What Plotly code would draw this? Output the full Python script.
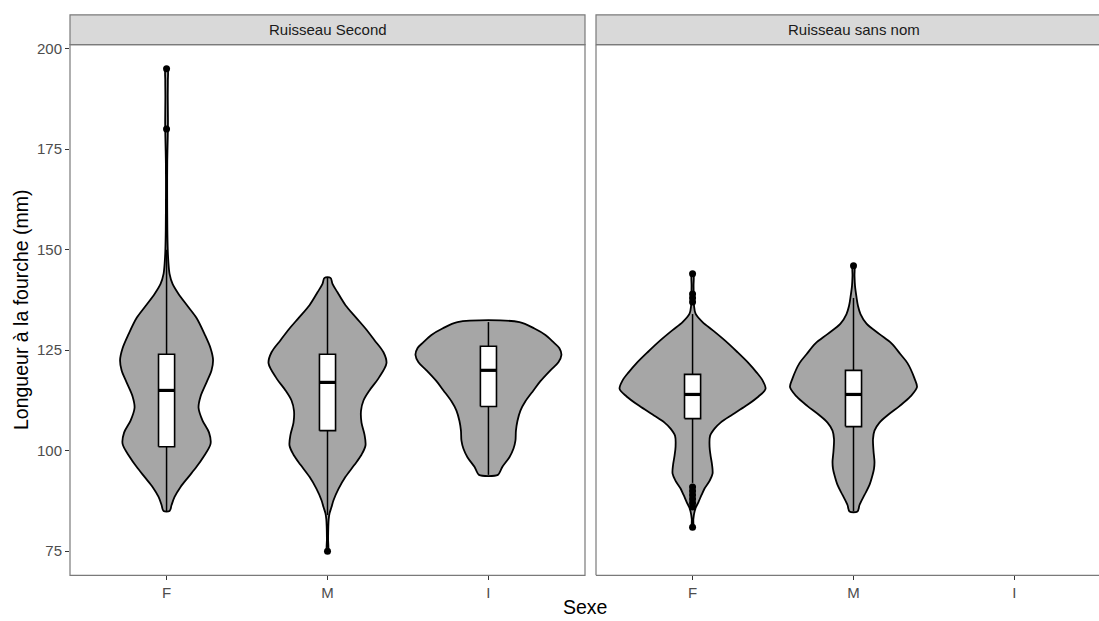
import plotly.graph_objects as go

# ---------------- data ----------------
panels = ["Ruisseau Second", "Ruisseau sans nom"]
categories = ["F", "M", "I"]

# violin profiles: y value (mm) and relative half-width (density, measured units)
lf_y = [85, 86.5, 88.5, 91, 93.5, 96, 98.5, 101.7, 104.5, 107.5, 110.7, 113.5, 117, 120, 122.6,
        125.5, 129, 133, 136, 139, 141.5, 144, 147, 150, 155, 165, 172, 178, 182, 188, 192, 195]
lf_d = [3, 5, 8, 14, 22, 30, 37, 44, 42.5, 36, 32, 34, 40, 45, 46.5,
        44, 38, 30, 21, 12, 6, 3, 1.8, 1.2, 0.8, 0.6, 0.7, 1.2, 1.4, 1.2, 1.3, 1.0]

lm_y = [75, 78, 81, 83, 84.4, 86, 87.7, 90.5, 93.5, 96.5, 99, 101.3, 104, 107, 109.9, 112.5,
        115, 118, 121.8, 124.5, 127.5, 130.4, 133, 136.2, 139.4, 141.5, 143]
lm_d = [0.6, 0.6, 0.8, 1.2, 2, 4, 6, 11, 18, 27, 34, 38, 37, 34, 33.5, 36,
        42, 51, 59, 56, 47, 38, 29, 18, 10, 5, 3]

li_y = [94, 95, 96, 98.4, 100.5, 102.5, 105, 107.4, 110, 112.3, 115, 117.3, 120, 122, 123.8,
        125.5, 127, 128.8, 130.4, 132]
li_d = [9.5, 12, 14, 21, 25, 27, 27.5, 29, 32, 37, 45, 52, 62, 70, 73,
        71, 65, 57, 46, 31]

rf_y = [81, 83, 84.9, 86, 87.3, 89, 90.6, 92.5, 94.3, 96.5, 98.8, 101, 103.7, 105.5, 107, 109,
        111.1, 113.5, 115.4, 117.5, 119.5, 121.8, 124.5, 127.5, 130, 132, 134.1, 136, 138, 141, 144]
rf_d = [0.6, 0.8, 2, 3.5, 6, 9, 12, 17, 20, 19.5, 18, 17, 17.5, 22, 28, 40,
        53, 66, 73, 70, 64, 56, 45, 32, 20, 10, 3, 1.5, 1.2, 1, 0.8]

rm_y = [84.9, 86.5, 89, 91.5, 93.9, 95.5, 97.2, 100, 102.9, 105, 107, 109, 111.1, 113.5, 115.8,
        118, 121.8, 124, 126.7, 129, 131.6, 134, 136, 138.2, 141, 143.5, 146]
rm_d = [4, 6, 11, 16, 19, 20.5, 21, 20, 19.5, 21, 26, 35, 46, 57, 63.5,
        61, 54, 47, 38, 26, 13, 7, 4.5, 3, 1.5, 1, 0.8]

# boxplot statistics: (lower whisker, q1, median, q3, upper whisker)
box_lf = [85, 101, 115, 124, 150]
box_lm = [84, 105, 117, 124, 143]
box_li = [94, 111, 120, 126, 132]
box_rf = [92, 108, 114, 119, 134]
box_rm = [85, 106, 114, 120, 138]

# outliers
out_lf = [180, 195]
out_lm = [75]
out_li = []
out_rf = [81, 86, 87, 88, 89, 90, 91, 137, 138, 139, 144]
out_rm = [146]

y_ticks = [75, 100, 125, 150, 175, 200]

# ---------------- figure ----------------
W, H = 1099, 621
DENS_SCALE = 1 / 161.0   # converts measured half-width to category units
BOX_HALF = 0.05          # boxplot width 0.1 (category units)

groups = [
    ("x", "y", 1, lf_y, lf_d, box_lf, out_lf),
    ("x", "y", 2, lm_y, lm_d, box_lm, out_lm),
    ("x", "y", 3, li_y, li_d, box_li, out_li),
    ("x2", "y2", 1, rf_y, rf_d, box_rf, out_rf),
    ("x2", "y2", 2, rm_y, rm_d, box_rm, out_rm),
]

fig = go.Figure()
VIOLIN_FILL = "#A6A6A6"

for xa, ya, pos, vy, vd, bx, outs in groups:
    # violin
    right_x = [pos + d * DENS_SCALE for d in vd]
    left_x = [pos - d * DENS_SCALE for d in vd]
    xs = right_x + left_x[::-1] + [right_x[0]]
    ys = vy + vy[::-1] + [vy[0]]
    fig.add_trace(go.Scatter(
        x=xs, y=ys, xaxis=xa, yaxis=ya, mode="lines", fill="toself",
        fillcolor=VIOLIN_FILL, line=dict(color="black", width=1.8, shape="spline", smoothing=0.9),
        hoverinfo="skip", showlegend=False))
    # whiskers
    fig.add_trace(go.Scatter(
        x=[pos, pos], y=[bx[0], bx[4]], xaxis=xa, yaxis=ya, mode="lines",
        line=dict(color="black", width=1.5), hoverinfo="skip", showlegend=False))
    # box (q1..q3)
    fig.add_trace(go.Scatter(
        x=[pos - BOX_HALF, pos + BOX_HALF, pos + BOX_HALF, pos - BOX_HALF, pos - BOX_HALF],
        y=[bx[1], bx[1], bx[3], bx[3], bx[1]], xaxis=xa, yaxis=ya, mode="lines",
        fill="toself", fillcolor="white", line=dict(color="black", width=1.6),
        hoverinfo="skip", showlegend=False))
    # median
    fig.add_trace(go.Scatter(
        x=[pos - BOX_HALF, pos + BOX_HALF], y=[bx[2], bx[2]], xaxis=xa, yaxis=ya, mode="lines",
        line=dict(color="black", width=3.2), showlegend=False, hoverinfo="skip"))
    # outliers
    if outs:
        fig.add_trace(go.Scatter(
            x=[pos] * len(outs), y=outs, xaxis=xa, yaxis=ya, mode="markers",
            marker=dict(color="black", size=7), showlegend=False, hoverinfo="skip"))

top_px, bot_px = 40, 575
ydom = [(H - bot_px) / H, (H - top_px) / H]
xdom1 = [70 / W, 585 / W]
xdom2 = [596 / W, 1.0]
unit_px = (585 - 70) / 3.2
xr2 = [0.4, 0.4 + (W - 596) / unit_px]

FONT = "Liberation Sans, Arial, sans-serif"
axis_common = dict(showgrid=False, zeroline=False, ticks="outside", ticklen=4, tickwidth=1,
                   tickcolor="#333333", tickfont=dict(family=FONT, size=15, color="#4D4D4D"),
                   showline=False)

fig.update_layout(
    width=W, height=H, margin=dict(l=0, r=0, t=0, b=0),
    paper_bgcolor="white", plot_bgcolor="white", showlegend=False,
    xaxis=dict(domain=xdom1, range=[0.4, 3.6], type="linear", tickvals=[1, 2, 3],
               ticktext=categories, anchor="y", **axis_common),
    xaxis2=dict(domain=xdom2, range=xr2, type="linear", tickvals=[1, 2, 3],
                ticktext=categories, anchor="y2", **axis_common),
    yaxis=dict(domain=ydom, range=[69, 201], tickvals=y_ticks, anchor="x", **axis_common),
    yaxis2=dict(domain=ydom, range=[69, 201], tickvals=y_ticks, anchor="x2", matches="y",
                showticklabels=False, showgrid=False, zeroline=False, ticks="", showline=False),
)

BORDER = "#7A7A7A"
shapes = []
shapes.append(dict(type="rect", xref="x domain", yref="y domain", x0=0, x1=1, y0=0, y1=1,
                   line=dict(color=BORDER, width=1.2), layer="above"))
for (x0, y0, x1, y1) in [(0, 0, 0, 1), (0, 0, 1, 0), (0, 1, 1, 1)]:
    shapes.append(dict(type="line", xref="x2 domain", yref="y2 domain", x0=x0, y0=y0, x1=x1, y1=y1,
                       line=dict(color=BORDER, width=1.2), layer="above"))
strip_y0 = (H - top_px) / H
strip_y1 = (H - 10) / H
shapes.append(dict(type="rect", xref="x domain", yref="paper", x0=0, x1=1, y0=strip_y0, y1=strip_y1,
                   fillcolor="#D9D9D9", line=dict(color=BORDER, width=1.2), layer="below"))
shapes.append(dict(type="rect", xref="x2 domain", yref="paper", x0=0, x1=1.05, y0=strip_y0, y1=strip_y1,
                   fillcolor="#D9D9D9", line=dict(color=BORDER, width=1.2), layer="below"))
fig.update_layout(shapes=shapes)

strip_mid = (strip_y0 + strip_y1) / 2
annotations = [
    dict(text=panels[0], xref="x", yref="paper", x=2, y=strip_mid, showarrow=False,
         font=dict(family=FONT, size=15, color="#1A1A1A"), xanchor="center", yanchor="middle"),
    dict(text=panels[1], xref="x2", yref="paper", x=2, y=strip_mid, showarrow=False,
         font=dict(family=FONT, size=15, color="#1A1A1A"), xanchor="center", yanchor="middle"),
    dict(text="Longueur à la fourche (mm)", xref="paper", yref="paper", x=21 / W,
         y=(ydom[0] + ydom[1]) / 2, textangle=-90, showarrow=False,
         font=dict(family=FONT, size=19.5, color="black"), xanchor="center", yanchor="middle"),
    dict(text="Sexe", xref="paper", yref="paper", x=585 / W, y=(H - 607) / H, showarrow=False,
         font=dict(family=FONT, size=19.5, color="black"), xanchor="center", yanchor="middle"),
]
fig.update_layout(annotations=annotations)

fig.write_html("out.html", config={"displayModeBar": False},
               post_script="document.body.style.margin='0';document.body.style.overflow='hidden';")
